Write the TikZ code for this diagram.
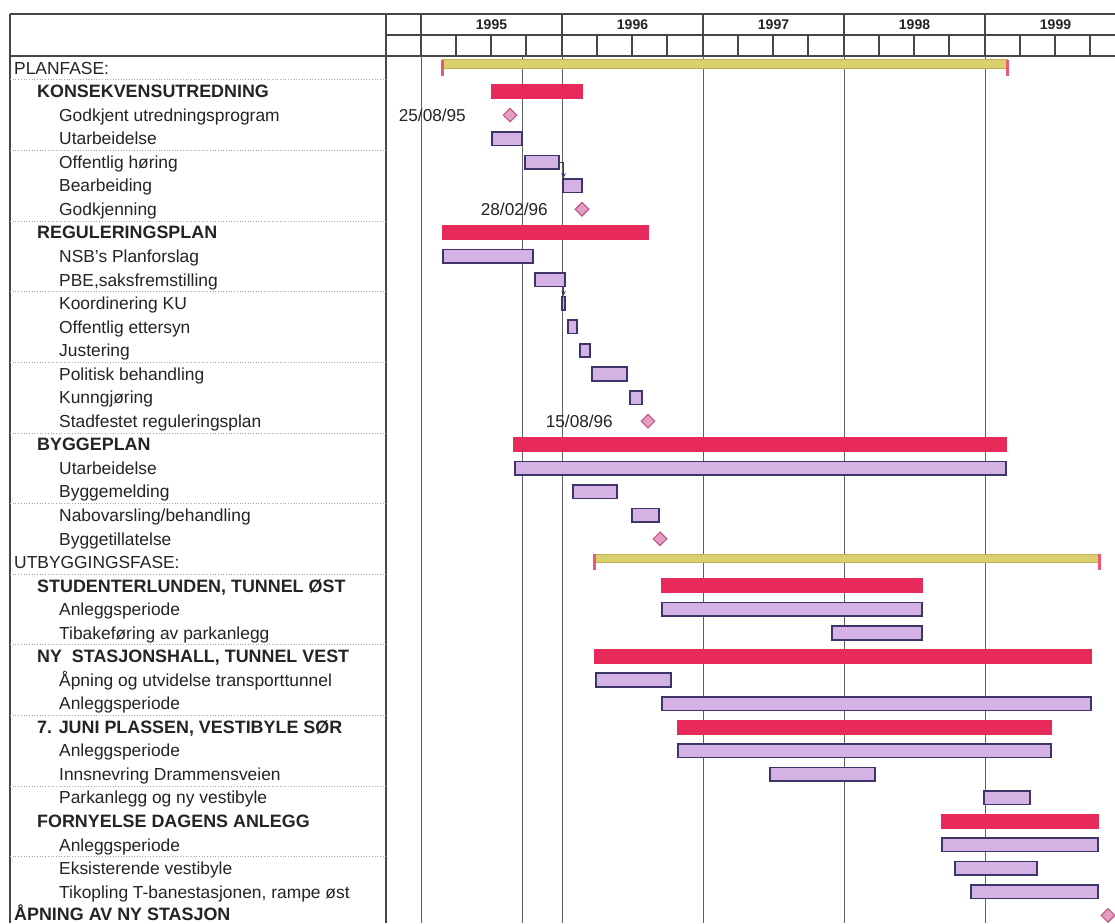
\documentclass[tikz,border=0pt]{standalone}
\usepackage{fontspec}
\setmainfont{Liberation Sans}
\usetikzlibrary{arrows.meta,shapes.geometric}
\definecolor{txt}{RGB}{35,35,40}
\definecolor{gridc}{RGB}{95,95,95}
\definecolor{hdrc}{RGB}{70,70,70}
\definecolor{sumred}{RGB}{232,42,90}
\definecolor{taskfill}{RGB}{212,178,228}
\definecolor{taskedge}{RGB}{62,52,108}
\definecolor{phasey}{RGB}{218,208,112}
\definecolor{phaseedge}{RGB}{190,176,80}
\definecolor{capred}{RGB}{235,90,115}
\definecolor{msfill}{RGB}{228,158,194}
\definecolor{msedge}{RGB}{190,86,136}
\definecolor{sepc}{RGB}{165,165,165}

\newcommand\rl[4]{\node[#2] (t#1) at ({#3},{68+(#1-1)*23.54+6.2}) {#4};}
\newcommand\gsum[3]{\node[sumbar, minimum width={(#3-#2)*1pt}] (b#1) at ({(#2+#3)/2},{68+(#1-1)*23.54}) {};}
\newcommand\gtask[3]{\node[taskbar, minimum width={(#3-#2-1.6)*1pt}] (b#1) at ({(#2+#3)/2},{68+(#1-1)*23.54}) {};}
\newcommand\gms[2]{\node[milestone] (b#1) at ({#2},{68+(#1-1)*23.54}) {};}
\newcommand\gphase[3]{%
  \node[phasebar, minimum width={(#3-#2)*1pt}] (b#1) at ({(#2+#3)/2},{68+(#1-1)*23.54-4}) {};
  \node[phasecap] (b#1l) at ({#2},{68+(#1-1)*23.54}) {};
  \node[phasecap] (b#1r) at ({#3},{68+(#1-1)*23.54}) {};}
\newcommand\gdate[3]{\node[datelbl] (d#1) at ({#2},{68+(#1-1)*23.54+6.2}) {#3};}

\begin{document}
\begin{tikzpicture}[x=1pt,y=-1pt,
  lblreg/.style={anchor=base west, inner sep=0pt, text=txt, font=\fontsize{17.4}{20}\selectfont},
  lblbold/.style={anchor=base west, inner sep=0pt, text=txt, font=\fontsize{17.9}{20}\selectfont\bfseries},
  datelbl/.style={anchor=base east, inner sep=0pt, text=txt, font=\fontsize{17.2}{20}\selectfont},
  yearlbl/.style={inner sep=0pt, text=txt, font=\fontsize{14}{16}\selectfont\bfseries},
  sumbar/.style={rectangle, fill=sumred, inner sep=0pt, minimum height=15pt},
  taskbar/.style={rectangle, fill=taskfill, draw=taskedge, line width=1.6pt, inner sep=0pt, minimum height=13.5pt},
  milestone/.style={diamond, aspect=1, fill=msfill, draw=msedge, line width=1.1pt, inner sep=0pt, minimum size=14pt},
  phasebar/.style={rectangle, fill=phasey, draw=phaseedge, line width=0.5pt, inner sep=0pt, minimum height=8.5pt},
  phasecap/.style={rectangle, fill=capred, inner sep=0pt, minimum width=3pt, minimum height=16pt},
  hdr/.style={draw=hdrc, line width=1.1pt},
  gridl/.style={draw=gridc, line width=0.8pt},
  sepl/.style={draw=sepc, line width=0.7pt, dotted},
  link/.style={draw=taskedge, line width=0.9pt, -{Stealth[length=5pt,width=4.5pt]}}
]
\useasboundingbox (0,0) rectangle (1115,923);
\clip (0,0) rectangle (1115,923);
\fill[white] (0,0) rectangle (1115,923);

% ---- table frame and header
\draw[hdr] (10,14) -- (1115,14);
\draw[hdr] (386,35) -- (1115,35);
\draw[hdr] (10,56) -- (1115,56);
\draw[hdr] (10,14) -- (10,923);
\draw[hdr] (386,14) -- (386,923);
\foreach \x in {421,562,703,844,985} \draw[hdr] (\x,14) -- (\x,56);
\foreach \x in {456,491,526,597,632,667,738,773,808,879,914,949,1020,1055,1090} \draw[hdr] (\x,35) -- (\x,56);
\node[yearlbl] (y1995) at (491.5,24.5) {1995};
\node[yearlbl] (y1996) at (632.5,24.5) {1996};
\node[yearlbl] (y1997) at (773.5,24.5) {1997};
\node[yearlbl] (y1998) at (914.5,24.5) {1998};
\node[yearlbl] (y1999) at (1055.5,24.5) {1999};

% ---- chart grid
\foreach \x in {421,522,562,703,844,985} \draw[gridl] (\x,56) -- (\x,923);
% ---- label separators
\foreach \k in {0,...,11} \draw[sepl] (10,{68+3*\k*23.54+11.77}) -- (386,{68+3*\k*23.54+11.77});

% ---- labels
\rl{1}{lblreg}{14}{PLANFASE:}
\rl{2}{lblbold}{37}{KONSEKVENSUTREDNING}
\rl{3}{lblreg}{59}{Godkjent utredningsprogram}
\rl{4}{lblreg}{59}{Utarbeidelse}
\rl{5}{lblreg}{59}{Offentlig høring}
\rl{6}{lblreg}{59}{Bearbeiding}
\rl{7}{lblreg}{59}{Godkjenning}
\rl{8}{lblbold}{37}{REGULERINGSPLAN}
\rl{9}{lblreg}{59}{NSB's Planforslag}
\rl{10}{lblreg}{59}{PBE,saksfremstilling}
\rl{11}{lblreg}{59}{Koordinering KU}
\rl{12}{lblreg}{59}{Offentlig ettersyn}
\rl{13}{lblreg}{59}{Justering}
\rl{14}{lblreg}{59}{Politisk behandling}
\rl{15}{lblreg}{59}{Kunngjøring}
\rl{16}{lblreg}{59}{Stadfestet reguleringsplan}
\rl{17}{lblbold}{37}{BYGGEPLAN}
\rl{18}{lblreg}{59}{Utarbeidelse}
\rl{19}{lblreg}{59}{Byggemelding}
\rl{20}{lblreg}{59}{Nabovarsling/behandling}
\rl{21}{lblreg}{59}{Byggetillatelse}
\rl{22}{lblreg}{14}{UTBYGGINGSFASE:}
\rl{23}{lblbold}{37}{STUDENTERLUNDEN, TUNNEL ØST}
\rl{24}{lblreg}{59}{Anleggsperiode}
\rl{25}{lblreg}{59}{Tibakeføring av parkanlegg}
\rl{26}{lblbold}{37}{NY\ \ STASJONSHALL, TUNNEL VEST}
\rl{27}{lblreg}{59}{Åpning og utvidelse transporttunnel}
\rl{28}{lblreg}{59}{Anleggsperiode}
\rl{29}{lblbold}{37}{7. JUNI PLASSEN, VESTIBYLE SØR}
\rl{30}{lblreg}{59}{Anleggsperiode}
\rl{31}{lblreg}{59}{Innsnevring Drammensveien}
\rl{32}{lblreg}{59}{Parkanlegg og ny vestibyle}
\rl{33}{lblbold}{37}{FORNYELSE DAGENS ANLEGG}
\rl{34}{lblreg}{59}{Anleggsperiode}
\rl{35}{lblreg}{59}{Eksisterende vestibyle}
\rl{36}{lblreg}{59}{Tikopling T-banestasjonen, rampe øst}
\node[lblbold, anchor=south west] (t37) at (14,921) {ÅPNING AV NY STASJON};

% ---- gantt elements
\gphase{1}{442}{1007}
\gsum{2}{491}{583}
\gms{3}{510}
\gdate{3}{466}{25/08/95}
\gtask{4}{491}{523}
\gtask{5}{524}{560}
\gtask{6}{562}{583}
\gms{7}{582}
\gdate{7}{548}{28/02/96}
\gsum{8}{442}{649}
\gtask{9}{442}{534}
\gtask{10}{534}{566}
\gtask{11}{561}{566}
\gtask{12}{567}{578}
\gtask{13}{579}{591}
\gtask{14}{591}{628}
\gtask{15}{629}{643}
\gms{16}{648}
\gdate{16}{613}{15/08/96}
\gsum{17}{513}{1007}
\gtask{18}{514}{1007}
\gtask{19}{572}{618}
\gtask{20}{631}{660}
\gms{21}{660}
\gphase{22}{594}{1099}
\gsum{23}{661}{923}
\gtask{24}{661}{923}
\gtask{25}{831}{923}
\gsum{26}{594}{1092}
\gtask{27}{595}{672}
\gtask{28}{661}{1092}
\gsum{29}{677}{1052}
\gtask{30}{677}{1052}
\gtask{31}{769}{876}
\gtask{32}{983}{1031}
\gsum{33}{941}{1099}
\gtask{34}{941}{1099}
\gtask{35}{954}{1038}
\gtask{36}{970}{1099}
\gms{37}{1108}

% ---- links
\draw[link] (b5.east) -| ([xshift=1.5pt]b6.north west);
\draw[link] (b10.south -| b11.north) -- (b11.north);
\end{tikzpicture}
\end{document}
